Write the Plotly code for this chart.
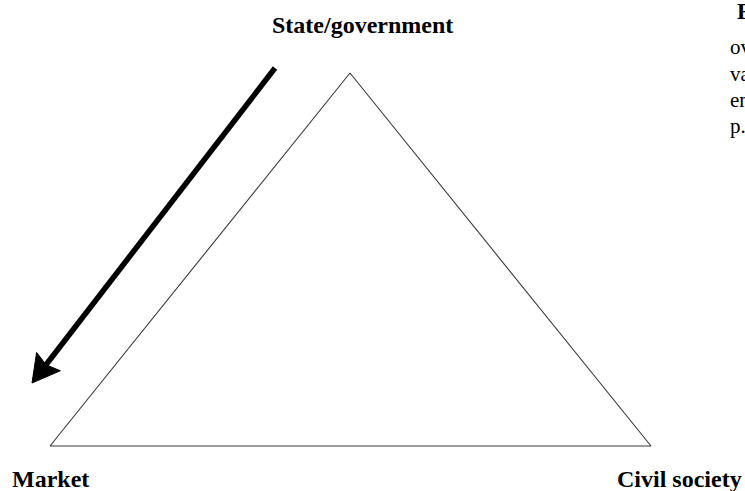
import numpy as np
import plotly.graph_objects as go

# Diagram data (pixel-space coordinates of the diagram's nodes)
vertex_names = ["State/government", "Market", "Civil society"]
vertex_x = [350, 50, 651]
vertex_y = [73, 446, 446]

label_x = [362, 10, 615]
label_y = [25, 479, 479]
label_anchor = ["center", "left", "left"]

arrow_start = (275, 68)
arrow_end = (32, 383)

side_text = ["F", "ov", "va", "en", "p."]
side_x = [735, 728, 728, 728, 728]
side_y = [11, 47, 74, 100, 126]
side_bold = [True, False, False, False, False]

W, H = 745, 491
fig = go.Figure()

# Triangle
fig.add_trace(go.Scatter(
    x=vertex_x + [vertex_x[0]], y=vertex_y + [vertex_y[0]],
    mode="lines", line=dict(color="#3a3a3a", width=1.1),
    hoverinfo="skip", showlegend=False))

# Arrow shaft + head
sx, sy = arrow_start
ex, ey = arrow_end
d = np.array([ex - sx, ey - sy], dtype=float)
u = d / np.linalg.norm(d)
n = np.array([-u[1], u[0]])
head_len, head_half = 27, 15
base = np.array([ex, ey]) - u * head_len
shaft_end = np.array([ex, ey]) - u * (head_len - 4)
fig.add_trace(go.Scatter(
    x=[sx, shaft_end[0]], y=[sy, shaft_end[1]], mode="lines",
    line=dict(color="black", width=5.5), hoverinfo="skip", showlegend=False))
c1 = base + n * head_half
c2 = base - n * head_half
notch = base + u * 4
fig.add_trace(go.Scatter(
    x=[ex, c1[0], notch[0], c2[0], ex], y=[ey, c1[1], notch[1], c2[1], ey],
    mode="lines", fill="toself", fillcolor="black",
    line=dict(color="black", width=1), hoverinfo="skip", showlegend=False))

# Vertex labels
for name, lx, ly, anc in zip(vertex_names, label_x, label_y, label_anchor):
    fig.add_annotation(x=lx, y=ly, text=f"<b>{name}</b>", showarrow=False,
                       xanchor=anc, yanchor="middle",
                       font=dict(family="Liberation Serif", size=24, color="black"))

# Clipped side text (cut off at the right edge)
for t, tx, ty, b in zip(side_text, side_x, side_y, side_bold):
    fig.add_annotation(x=tx, y=ty, text=(f"<b>{t}</b>" if b else t),
                       showarrow=False, xanchor="left", yanchor="middle",
                       font=dict(family="Liberation Serif", size=23 if b else 21, color="black"))

fig.update_layout(
    width=W, height=H, margin=dict(l=0, r=0, t=0, b=0),
    paper_bgcolor="white", plot_bgcolor="white",
    xaxis=dict(range=[0, W], visible=False, fixedrange=True),
    yaxis=dict(range=[H, 0], visible=False, fixedrange=True),
)
fig.write_html("out.html", config={"displayModeBar": False},
               post_script="document.body.style.margin='0';document.body.style.overflow='hidden';")
